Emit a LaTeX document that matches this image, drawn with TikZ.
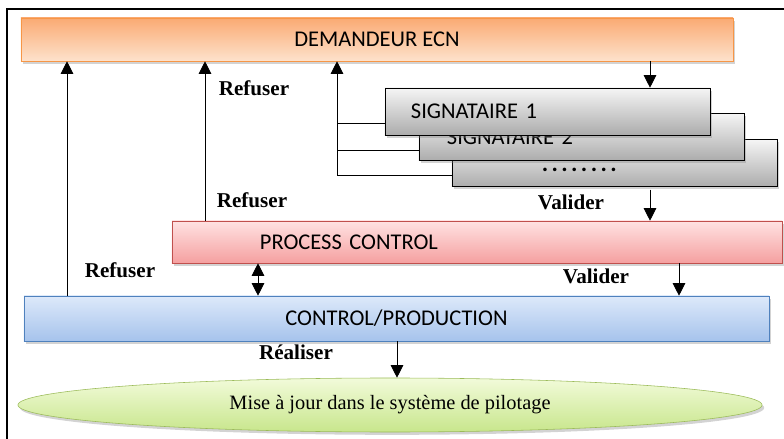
\documentclass[tikz,border=0pt]{standalone}
\usepackage{fontspec}
\setmainfont{Liberation Serif}
\newfontfamily\boxfont{Carlito}
\usetikzlibrary{arrows.meta,shapes.geometric,shadows}

\definecolor{demtop}{RGB}{250,170,115}
\definecolor{dembot}{RGB}{253,226,204}
\definecolor{demline}{RGB}{247,150,70}
\definecolor{sigtop}{RGB}{245,245,245}
\definecolor{sigbot}{RGB}{172,172,172}
\definecolor{proctop}{RGB}{255,226,226}
\definecolor{procbot}{RGB}{245,160,160}
\definecolor{procline}{RGB}{192,80,77}
\definecolor{prodtop}{RGB}{221,233,250}
\definecolor{prodbot}{RGB}{166,195,236}
\definecolor{prodline}{RGB}{79,129,189}
\definecolor{majtop}{RGB}{242,251,218}
\definecolor{majbot}{RGB}{200,230,140}
\definecolor{majline}{RGB}{155,187,89}

\tikzset{
  box/.style={draw, inner ysep=0pt, font=\boxfont\fontsize{16}{18}\selectfont,
    drop shadow={shadow xshift=1.5pt, shadow yshift=-2pt, opacity=0.35}},
  sigbox/.style={box, top color=sigtop, bottom color=sigbot, minimum width=8.125cm,
    minimum height=1.175cm, align=left},
  lbl/.style={font=\bfseries\fontsize{15}{17}\selectfont},
  tip/.style={-{Triangle[length=9pt,width=9pt]}, semithick},
  dtip/.style={{Triangle[length=9pt,width=9pt]}-{Triangle[length=9pt,width=9pt]}, semithick},
}
\newcommand{\sigdots}{\raisebox{-6pt}[0pt][0pt]{\bfseries\fontsize{17}{18}\selectfont
  .\hspace{2.4pt}.\hspace{2.4pt}.\hspace{2.4pt}.\hspace{2.4pt}.\hspace{2.4pt}.\hspace{2.4pt}.\hspace{2.4pt}.}}

\begin{document}
\begin{tikzpicture}[x=0.025cm, y=-0.025cm]
	\useasboundingbox (0,0) rectangle (784,439);
	\draw[line width=1pt] (784,9) -- (7,9) -- (7,439);

	% boxes
	\node[box, top color=demtop, bottom color=dembot, draw=demline, minimum width=17.8cm, minimum height=1.075cm] (dem) at (377,39.5) {DEMANDEUR ECN};
	\node[sigbox, inner xsep=2.25cm, text width=3.625cm] (sig3) at (614.5,163) {\sigdots};
	\node[sigbox, inner xsep=0.7cm, text width=6.725cm] (sig2) at (581.5,137) {SIGNATAIRE 2};
	\node[sigbox, inner xsep=0.65cm, text width=6.825cm] (sig1) at (547.5,111.5) {SIGNATAIRE 1};
	\node[box, top color=proctop, bottom color=procbot, draw=procline, minimum width=15.25cm, minimum height=1.05cm, inner xsep=2.2cm, text width=10.85cm, align=left] (proc) at (477,242) {PROCESS CONTROL};
	\node[box, top color=prodtop, bottom color=prodbot, draw=prodline, minimum width=18.625cm, minimum height=1.125cm] (prod) at (396.5,318.5) {CONTROL/PRODUCTION};
	\node[ellipse, draw=majline, top color=majtop, bottom color=majbot, minimum width=18.6cm, minimum height=1.35cm, inner sep=0pt, font=\fontsize{14.5}{16}\selectfont,
		drop shadow={shadow xshift=1.5pt, shadow yshift=-2pt, opacity=0.35}] (maj) at (390,405) {Mise à jour dans le système de pilotage};

	% labels
	\node[lbl] (ref1) at (254,88) {Refuser};
	\node[lbl] (ref2) at (252,200) {Refuser};
	\node[lbl] (val1) at (571,202) {Valider};
	\node[lbl] (ref3) at (120,270) {Refuser};
	\node[lbl] (val2) at (596,276) {Valider};
	\node[lbl] (real) at (296,352) {Réaliser};

	% arrows
	\coordinate (bus) at (337,175);
	\draw[tip] (prod.north -| 67,0) -- (dem.south -| 67,0);
	\draw[tip] (proc.north -| 205,0) -- (dem.south -| 205,0);
	\draw[tip] (sig3.west |- bus) -- (bus) -- (dem.south -| bus);
	\draw[semithick] (sig2.west |- 0,150) -- (bus |- 0,150);
	\draw[semithick] (sig1.west |- 0,123) -- (bus |- 0,123);
	\draw[tip] (dem.south -| 650,0) -- (sig1.north -| 650,0);
	\draw[tip] ([yshift=-2pt]sig3.south -| 650,0) -- (proc.north -| 650,0);
	\draw[dtip] (proc.south -| 258,0) -- (prod.north -| 258,0);
	\draw[tip] (proc.south -| 679,0) -- (prod.north -| 679,0);
	\draw[tip] (prod.south -| 397,0) -- (maj.north -| 397,0);
\end{tikzpicture}
\end{document}
